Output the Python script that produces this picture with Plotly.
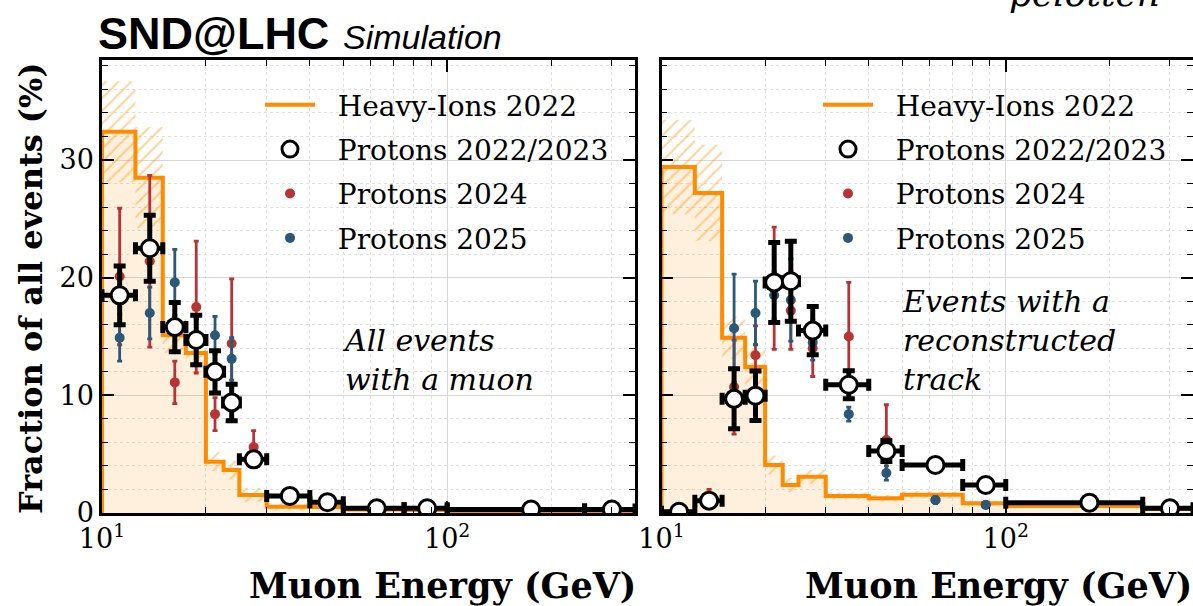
import plotly.graph_objects as go

# ---------------- data ----------------
edges = [10, 12.5, 15, 17.5, 20, 22.5, 25, 30, 40, 50, 75, 100, 250, 350]

# left panel: all events with a muon
L_hi = [32.4, 28.5, 15.1, 13.6, 4.36, 3.65, 1.53, 0.54, 0.50, 0.30, 0.25, 0.15, 0.10]
L_hi_err = [4.3, 4.3, 1.5, 1.0, 0.8, 0.8, 0.6, 0.3, 0.2, 0.15, 0.1, 0.05, 0.05]
L_p2223 = [18.5, 22.5, 15.8, 14.7, 12.0, 9.4, 4.56, 1.45, 0.92, 0.40, 0.40, 0.30, 0.30]
L_p2223_err = [2.5, 2.8, 2.1, 2.1, 1.8, 1.55, 0.5, 0.3, 0.25, 0.15, 0.15, 0.1, 0.1]
L_p24 = [20.1, 21.4, 11.1, 17.5, 8.4, 14.4, 5.6, 1.6, 0.9, 0.4, 0.4, 0.3, 0.3]
L_p24_err = [5.8, 7.3, 1.8, 5.6, 1.4, 5.5, 1.4, 0.5, 0.4, 0.2, 0.2, 0.1, 0.1]
L_p25 = [14.9, 17.0, 19.6, 14.5, 15.1, 13.1, 4.5, 1.3, 0.85, 0.4, 0.4, 0.3, 0.3]
L_p25_err = [2.0, 2.2, 2.8, 2.0, 1.6, 1.8, 0.6, 0.3, 0.2, 0.1, 0.1, 0.1, 0.1]

# right panel: events with a reconstructed track
R_hi = [29.4, 27.2, 14.9, 12.4, 4.08, 2.38, 3.08, 1.44, 1.25, 1.55, 0.82, 0.60, 0.35]
R_hi_err = [4.0, 4.1, 1.8, 1.5, 0.8, 0.6, 0.6, 0.3, 0.3, 0.3, 0.2, 0.1, 0.1]
R_p2223 = [0.1, 1.05, 9.7, 9.97, 19.6, 19.7, 15.5, 10.9, 5.27, 4.08, 2.38, 0.88, 0.40]
R_p2223_err = [0.1, 0.3, 2.55, 2.1, 3.4, 3.4, 2.05, 1.2, 0.9, 0.4, 0.4, 0.15, 0.1]
R_p24 = [0.1, 1.3, 10.7, 13.4, 19.1, 17.2, 14.0, 15.0, 6.2, 1.1, 0.7, 0.5, 0.3]
R_p24_err = [0.1, 0.7, 4.0, 2.5, 5.2, 3.3, 2.4, 4.6, 3.0, 0.3, 0.2, 0.1, 0.1]
R_p25 = [0.1, 0.8, 15.7, 17.0, 18.5, 18.1, 14.5, 8.4, 3.4, 1.1, 0.68, 0.5, 0.3]
R_p25_err = [0.1, 0.3, 4.6, 2.7, 2.0, 3.5, 1.5, 0.6, 0.6, 0.3, 0.2, 0.1, 0.1]

names = ["Heavy-Ions 2022", "Protons 2022/2023", "Protons 2024", "Protons 2025"]
x_ticks = [10, 100]
x_ticktext = ["10<sup>1</sup>", "10<sup>2</sup>"]
x_minor = [20, 30, 40, 50, 60, 70, 80, 90, 200, 300]

ORANGE = "#ff8c00"
RED = "#b83434"
BLUE = "#2c5877"
SERIF = "DejaVu Serif"
PAD = "\u00a0\u00a0"  # small gap between legend symbol and label

centers = [(a + b) / 2 for a, b in zip(edges[:-1], edges[1:])]
xminus = [c - a for c, a in zip(centers, edges[:-1])]
xplus = [b - c for c, b in zip(centers, edges[1:])]

fig = go.Figure()


def add_panel(hi, hi_err, p2223, p2223_err, p24, p24_err, p25, p25_err, xa, ya, leg):
    # filled histogram
    fig.add_trace(go.Scatter(
        x=[edges[0]] + edges, y=[0] + hi + [hi[-1]], mode="lines",
        line=dict(shape="hv", width=0, color=ORANGE), fill="tozeroy",
        fillcolor="rgba(255,140,0,0.13)", showlegend=False, hoverinfo="skip",
        xaxis=xa, yaxis=ya))
    lo = [v - e for v, e in zip(hi, hi_err)]
    up = [v + e for v, e in zip(hi, hi_err)]
    fig.add_trace(go.Scatter(
        x=edges, y=lo + [lo[-1]], mode="lines", line=dict(shape="hv", width=0),
        showlegend=False, hoverinfo="skip", xaxis=xa, yaxis=ya))
    fig.add_trace(go.Scatter(
        x=edges, y=up + [up[-1]], mode="lines", line=dict(shape="hv", width=0),
        fill="tonexty", fillcolor="rgba(0,0,0,0)",
        fillpattern=dict(shape="/", fgcolor="rgba(255,150,20,0.85)",
                         bgcolor="rgba(0,0,0,0)", size=9, solidity=0.22,
                         fillmode="overlay"),
        showlegend=False, hoverinfo="skip", xaxis=xa, yaxis=ya))
    fig.add_trace(go.Scatter(
        x=[edges[0]] + edges, y=[0] + hi + [hi[-1]], mode="lines",
        line=dict(shape="hv", width=4, color=ORANGE), name=PAD + names[0],
        legend=leg, legendrank=1, legendgroup=leg + "a", xaxis=xa, yaxis=ya))
    for vals, errs, col, nm, rk in [(p24, p24_err, RED, names[2], 3),
                                    (p25, p25_err, BLUE, names[3], 4)]:
        fig.add_trace(go.Scatter(
            x=centers, y=vals, mode="markers",
            marker=dict(size=10, color=col),
            error_y=dict(type="data", array=errs, color=col, thickness=2.8, width=2.5),
            name=PAD + nm, legend=leg, legendrank=rk, legendgroup=leg + nm,
            xaxis=xa, yaxis=ya))
    fig.add_trace(go.Scatter(
        x=centers, y=p2223, mode="markers",
        marker=dict(size=17, color="white", line=dict(width=3, color="black")),
        error_y=dict(type="data", array=p2223_err, color="black", thickness=5, width=6),
        error_x=dict(type="data", array=xplus, arrayminus=xminus, color="black",
                     thickness=5, width=6),
        name=PAD + names[1], legend=leg, legendrank=2, legendgroup=leg + "b",
        xaxis=xa, yaxis=ya))


add_panel(L_hi, L_hi_err, L_p2223, L_p2223_err, L_p24, L_p24_err, L_p25, L_p25_err,
          "x", "y", "legend")
add_panel(R_hi, R_hi_err, R_p2223, R_p2223_err, R_p24, R_p24_err, R_p25, R_p25_err,
          "x2", "y2", "legend2")

W, H = 1193, 606


def px(v):
    return v / W


def py(v):
    return 1 - v / H


xaxis_common = dict(
    type="log", range=[1, 2.544], tickmode="array", tickvals=x_ticks, ticktext=x_ticktext,
    ticks="inside", ticklen=12, tickwidth=1.5, tickcolor="black",
    showline=True, linewidth=2.5, linecolor="black", mirror="ticks",
    showgrid=True, gridcolor="#d8d8d8", gridwidth=1, automargin=False,
    minor=dict(tickmode="array", tickvals=x_minor, ticks="inside", ticklen=6,
               tickwidth=1.2, tickcolor="black", showgrid=True, gridcolor="#e0e0e0",
               griddash="dot", gridwidth=1),
    tickfont=dict(family=SERIF, size=27, color="black"), zeroline=False,
)
yaxis_common = dict(
    range=[0, 38.5], tickmode="linear", tick0=0, dtick=10,
    ticks="inside", ticklen=12, tickwidth=1.5, tickcolor="black",
    showline=True, linewidth=2.5, linecolor="black", mirror="ticks",
    showgrid=True, gridcolor="#d8d8d8", gridwidth=1, automargin=False,
    minor=dict(dtick=2, ticks="inside", ticklen=6, tickwidth=1.2, tickcolor="black",
               showgrid=True, gridcolor="#e0e0e0", griddash="dot", gridwidth=1),
    tickfont=dict(family=SERIF, size=27, color="black"), zeroline=False,
    domain=[py(513), py(60)],
)

legend_common = dict(
    xanchor="left", yanchor="top", bgcolor="rgba(0,0,0,0)",
    font=dict(family=SERIF, size=28, color="black"),
    traceorder="grouped", tracegroupgap=5, itemwidth=50,
)

fig.update_layout(
    width=W, height=H, margin=dict(l=0, r=0, t=0, b=0, autoexpand=False),
    paper_bgcolor="white", plot_bgcolor="white",
    xaxis=dict(xaxis_common, domain=[px(102), px(635)], anchor="y"),
    xaxis2=dict(xaxis_common, domain=[px(661.5), 1.0], anchor="y2"),
    yaxis=dict(yaxis_common, anchor="x"),
    yaxis2=dict(yaxis_common, anchor="x2", showticklabels=False),
    legend=dict(legend_common, x=px(260), y=py(80)),
    legend2=dict(legend_common, x=px(818), y=py(80)),
    showlegend=True,
)

ann = [
    dict(text="<b>SND@LHC</b>", x=px(96), y=py(33), xanchor="left", yanchor="middle",
         font=dict(family="Liberation Sans", size=45, color="black")),
    dict(text="<i>Simulation</i>", x=px(341), y=py(37), xanchor="left", yanchor="middle",
         font=dict(family="Liberation Sans", size=34, color="black")),
    dict(text="<b>Fraction of all events (%)</b>", x=px(31), y=py(288), textangle=-90,
         xanchor="center", yanchor="middle",
         font=dict(family=SERIF, size=32, color="black")),
    dict(text="<b>Muon Energy (GeV)</b>", x=px(638), y=py(585), xanchor="right",
         yanchor="middle", font=dict(family=SERIF, size=35, color="black")),
    dict(text="<b>Muon Energy (GeV)</b>", x=px(1194), y=py(585), xanchor="right",
         yanchor="middle", font=dict(family=SERIF, size=35, color="black")),
    dict(text="<i>All events<br>with a muon</i>", x=px(340), y=py(360), xanchor="left",
         yanchor="middle", align="left", font=dict(family=SERIF, size=30, color="black")),
    dict(text="<i>Events with a<br>reconstructed<br>track</i>", x=px(900), y=py(340),
         xanchor="left", yanchor="middle", align="left",
         font=dict(family=SERIF, size=30, color="black")),
    dict(text="<i>pelotten</i>", x=px(1162), y=py(-6), xanchor="right", yanchor="middle",
         font=dict(family=SERIF, size=36, color="black")),
]
for a in ann:
    a.update(xref="paper", yref="paper", showarrow=False)
fig.update_layout(annotations=ann)

fig.write_html("out.html")
